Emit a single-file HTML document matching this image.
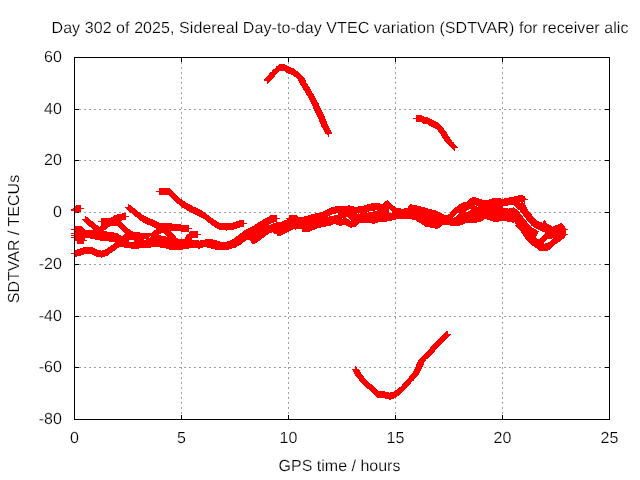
<!DOCTYPE html><html><head><meta charset="utf-8"><title>SDTVAR</title>
<style>html,body{margin:0;padding:0;background:#fff;overflow:hidden}svg{display:block}text{font-family:"Liberation Sans",sans-serif;font-size:16px;fill:#000;stroke:#fff;stroke-width:0.2px;paint-order:fill stroke;text-rendering:geometricPrecision}svg{will-change:transform}</style></head><body>
<svg width="640" height="480" viewBox="0 0 640 480">
<rect width="640" height="480" fill="#fff"/>
<g stroke="#a0a0a0" stroke-width="1" stroke-dasharray="2 3" shape-rendering="crispEdges"><line x1="181.5" y1="419" x2="181.5" y2="57"/><line x1="288.5" y1="419" x2="288.5" y2="57"/><line x1="395.5" y1="419" x2="395.5" y2="57"/><line x1="502.5" y1="419" x2="502.5" y2="57"/><line x1="74" y1="109.5" x2="610" y2="109.5"/><line x1="74" y1="160.5" x2="610" y2="160.5"/><line x1="74" y1="212.5" x2="610" y2="212.5"/><line x1="74" y1="264.5" x2="610" y2="264.5"/><line x1="74" y1="316.5" x2="610" y2="316.5"/><line x1="74" y1="367.5" x2="610" y2="367.5"/></g>
<path d="M74.5 420v-5M74.5 57v5M181.5 420v-5M181.5 57v5M288.5 420v-5M288.5 57v5M395.5 420v-5M395.5 57v5M502.5 420v-5M502.5 57v5M609.5 420v-5M609.5 57v5M74 57.5h5M610 57.5h-5M74 109.5h5M610 109.5h-5M74 160.5h5M610 160.5h-5M74 212.5h5M610 212.5h-5M74 264.5h5M610 264.5h-5M74 316.5h5M610 316.5h-5M74 367.5h5M610 367.5h-5M74 419.5h5M610 419.5h-5" stroke="#000" stroke-width="1" fill="none" shape-rendering="crispEdges"/>
<path d="M279 64h6M278 65h9M276 66h13M276 67h15M275 68h19M273 69h22M272 70h24M272 71h7M285 71h13M270 72h8M286 72h13M269 73h8M288 73h12M269 74h7M291 74h10M268 75h7M293 75h9M267 76h8M294 76h9M266 77h8M296 77h8M265 78h8M297 78h8M264 79h8M298 79h7M264 80h7M298 80h8M267 81h3M299 81h7M267 82h2M299 82h7M267 83h1M300 83h7M300 84h8M301 85h7M302 86h7M302 87h8M303 88h7M303 89h8M304 90h7M305 91h7M305 92h7M306 93h7M306 94h8M307 95h7M308 96h7M308 97h7M309 98h7M309 99h7M310 100h7M310 101h7M311 102h7M311 103h8M312 104h7M312 105h7M313 106h7M313 107h7M313 108h8M314 109h7M314 110h8M315 111h7M315 112h8M316 113h7M316 114h8M317 115h7M416 115h6M317 116h8M416 116h8M318 117h7M416 117h12M318 118h7M413 118h17M319 119h7M416 119h16M319 120h7M416 120h18M319 121h8M416 121h20M320 122h7M422 122h16M320 123h7M423 123h16M321 124h7M428 124h12M321 125h7M429 125h12M321 126h8M431 126h11M322 127h7M433 127h10M323 128h7M435 128h9M323 129h7M437 129h7M324 130h7M438 130h7M324 131h7M438 131h8M325 132h7M439 132h8M325 133h7M440 133h7M327 134h2M441 134h7M328 135h1M441 135h7M328 136h1M442 136h7M442 137h8M443 138h7M444 139h7M444 140h8M445 141h7M446 142h8M447 143h7M448 144h7M449 145h7M450 146h7M451 147h7M452 148h3M453 149h2M454 150h1M159 188h11M159 189h12M159 190h13M156 191h17M159 192h15M159 193h16M159 194h17M169 195h8M518 195h5M170 196h8M514 196h11M171 197h8M472 197h4M509 197h16M172 198h8M470 198h9M492 198h9M504 198h22M173 199h9M469 199h13M489 199h39M174 200h9M387 200h1M468 200h57M175 201h10M385 201h4M467 201h58M176 202h10M384 202h6M463 202h57M521 202h2M524 202h1M177 203h11M371 203h9M383 203h8M461 203h64M128 204h1M179 204h11M367 204h25M410 204h2M459 204h66M76 205h5M128 205h3M180 205h12M348 205h2M364 205h29M409 205h8M458 205h17M476 205h32M514 205h12M74 206h7M128 206h4M181 206h12M335 206h19M358 206h37M408 206h13M457 206h20M478 206h25M515 206h11M74 207h7M125 207h8M182 207h14M331 207h65M408 207h17M455 207h48M513 207h1M516 207h11M73 208h11M126 208h9M184 208h14M329 208h72M404 208h24M454 208h54M509 208h6M517 208h10M71 209h10M127 209h9M186 209h14M327 209h62M390 209h42M453 209h16M471 209h46M518 209h10M71 210h10M128 210h9M187 210h15M325 210h50M377 210h12M391 210h45M452 210h15M470 210h48M520 210h8M74 211h7M129 211h9M189 211h14M323 211h46M373 211h16M392 211h46M451 211h15M468 211h51M520 211h9M74 212h3M130 212h10M191 212h14M320 212h47M368 212h21M392 212h48M450 212h70M521 212h9M74 213h1M122 213h4M132 213h9M193 213h13M315 213h21M338 213h19M358 213h1M360 213h82M450 213h7M459 213h61M522 213h9M117 214h9M133 214h9M195 214h12M311 214h21M338 214h106M448 214h8M458 214h63M523 214h9M114 215h12M134 215h10M197 215h12M270 215h7M289 215h8M308 215h22M334 215h121M457 215h65M523 215h9M85 216h1M113 216h16M135 216h11M199 216h11M269 216h8M289 216h9M304 216h24M329 216h125M456 216h67M524 216h9M85 217h3M111 217h15M137 217h11M201 217h10M267 217h10M289 217h57M348 217h105M454 217h69M525 217h9M85 218h4M101 218h25M138 218h12M203 218h10M265 218h15M286 218h56M343 218h4M349 218h175M526 218h9M82 219h8M101 219h25M139 219h14M205 219h9M263 219h14M287 219h62M350 219h46M412 219h72M487 219h38M526 219h10M83 220h8M101 220h21M140 220h15M206 220h10M239 220h5M262 220h15M284 220h66M351 220h41M416 220h67M490 220h36M527 220h10M544 220h1M84 221h9M98 221h23M142 221h15M207 221h10M236 221h8M260 221h17M282 221h105M417 221h64M493 221h6M507 221h20M528 221h11M543 221h3M85 222h9M101 222h21M143 222h16M208 222h11M233 222h11M258 222h16M276 222h102M419 222h58M512 222h2M515 222h12M529 222h13M543 222h3M86 223h9M101 223h22M145 223h27M210 223h37M257 223h14M273 223h86M372 223h3M421 223h44M515 223h13M530 223h17M560 223h2M87 224h9M101 224h23M147 224h34M211 224h33M255 224h14M271 224h62M336 224h22M422 224h41M516 224h13M531 224h18M558 224h5M88 225h10M101 225h24M150 225h39M212 225h32M254 225h77M339 225h3M346 225h11M424 225h18M450 225h10M515 225h15M531 225h20M555 225h9M74 226h8M89 226h10M100 226h10M118 226h8M152 226h37M214 226h30M252 226h74M348 226h8M425 226h16M516 226h15M533 226h19M553 226h12M74 227h9M91 227h17M119 227h8M154 227h35M215 227h25M250 227h71M350 227h2M430 227h10M517 227h15M534 227h31M74 228h10M92 228h15M120 228h8M156 228h36M217 228h20M248 228h69M435 228h3M518 228h16M536 228h30M71 229h14M93 229h13M121 229h9M156 229h33M219 229h15M246 229h47M295 229h1M302 229h13M519 229h17M538 229h30M74 230h30M122 230h9M154 230h35M226 230h1M244 230h47M302 230h10M520 230h17M540 230h26M74 231h33M123 231h10M153 231h18M181 231h8M190 231h8M243 231h46M302 231h8M521 231h18M542 231h24M74 232h40M124 232h16M152 232h20M189 232h9M242 232h30M273 232h14M521 232h17M545 232h21M71 233h47M125 233h36M164 233h9M189 233h9M240 233h29M274 233h11M522 233h16M545 233h21M74 234h45M124 234h35M165 234h9M187 234h14M239 234h29M277 234h6M523 234h14M544 234h24M71 235h50M123 235h38M166 235h9M186 235h12M238 235h28M277 235h4M523 235h14M543 235h23M74 236h76M151 236h15M167 236h9M186 236h12M236 236h29M524 236h12M542 236h23M71 237h78M150 237h26M185 237h13M235 237h29M525 237h11M541 237h24M74 238h11M90 238h88M185 238h7M234 238h28M525 238h12M540 238h12M553 238h11M74 239h11M95 239h49M146 239h46M205 239h8M232 239h29M526 239h21M552 239h10M74 240h13M100 240h29M134 240h65M200 240h17M230 240h16M250 240h10M527 240h19M551 240h10M77 241h7M109 241h20M134 241h86M227 241h18M251 241h7M528 241h17M550 241h10M77 242h7M115 242h128M251 242h6M529 242h15M548 242h10M77 243h7M114 243h128M252 243h3M530 243h14M545 243h12M113 244h128M531 244h24M111 245h128M532 245h22M110 246h127M534 246h19M83 247h10M108 247h11M124 247h27M160 247h43M207 247h29M535 247h17M80 248h15M107 248h10M131 248h8M166 248h23M198 248h2M211 248h21M537 248h14M77 249h20M105 249h11M169 249h14M215 249h14M538 249h12M74 250h27M102 250h13M539 250h9M74 251h39M74 252h38M71 253h39M74 254h10M92 254h17M74 255h7M94 255h14M74 256h3M96 256h9M101 257h1M446 331h2M445 332h3M444 333h4M443 334h8M442 335h8M441 336h8M440 337h8M439 338h8M438 339h8M437 340h8M436 341h8M435 342h8M434 343h8M433 344h8M432 345h8M431 346h8M430 347h8M430 348h7M429 349h7M428 350h7M427 351h8M426 352h8M425 353h8M424 354h8M423 355h8M422 356h8M421 357h8M420 358h8M419 359h7M418 360h8M418 361h7M417 362h7M417 363h7M416 364h8M416 365h7M355 366h1M416 366h7M355 367h2M415 367h7M355 368h2M415 368h7M352 369h7M414 369h7M353 370h7M414 370h7M353 371h7M413 371h7M354 372h7M413 372h7M354 373h7M412 373h7M355 374h7M411 374h8M355 375h8M410 375h8M356 376h8M409 376h8M357 377h7M409 377h7M358 378h7M408 378h7M359 379h7M407 379h7M359 380h8M406 380h8M360 381h8M405 381h7M361 382h8M404 382h7M362 383h8M403 383h8M363 384h9M402 384h8M364 385h9M402 385h7M365 386h9M401 386h7M366 387h9M399 387h8M367 388h9M398 388h8M369 389h8M397 389h8M370 390h8M395 390h9M371 391h14M394 391h9M372 392h17M390 392h12M373 393h28M374 394h26M375 395h24M376 396h21M377 397h19M385 398h9M389 399h2" stroke="#f00" stroke-width="1" fill="none" transform="translate(0 0.5)" shape-rendering="crispEdges"/>
<rect x="74.5" y="57.5" width="535" height="362" fill="none" stroke="#000" stroke-width="1" shape-rendering="crispEdges"/>
<text x="340" y="33" text-anchor="middle" textLength="577" lengthAdjust="spacing">Day 302 of 2025, Sidereal Day-to-day VTEC variation (SDTVAR) for receiver alic</text>
<text x="61.8" y="61.5" text-anchor="end">60</text>
<text x="61.8" y="113.5" text-anchor="end">40</text>
<text x="61.8" y="164.5" text-anchor="end">20</text>
<text x="61.8" y="216.5" text-anchor="end">0</text>
<text x="61.8" y="268.5" text-anchor="end">-20</text>
<text x="61.8" y="320.5" text-anchor="end">-40</text>
<text x="61.8" y="371.5" text-anchor="end">-60</text>
<text x="61.8" y="423.5" text-anchor="end">-80</text>
<text x="74.5" y="442.5" text-anchor="middle">0</text>
<text x="181.5" y="442.5" text-anchor="middle">5</text>
<text x="288.5" y="442.5" text-anchor="middle">10</text>
<text x="395.5" y="442.5" text-anchor="middle">15</text>
<text x="502.5" y="442.5" text-anchor="middle">20</text>
<text x="609.5" y="442.5" text-anchor="middle">25</text>
<text x="339.5" y="471" text-anchor="middle">GPS time / hours</text>
<text transform="translate(19 239) rotate(-90)" text-anchor="middle">SDTVAR / TECUs</text>
</svg></body></html>
